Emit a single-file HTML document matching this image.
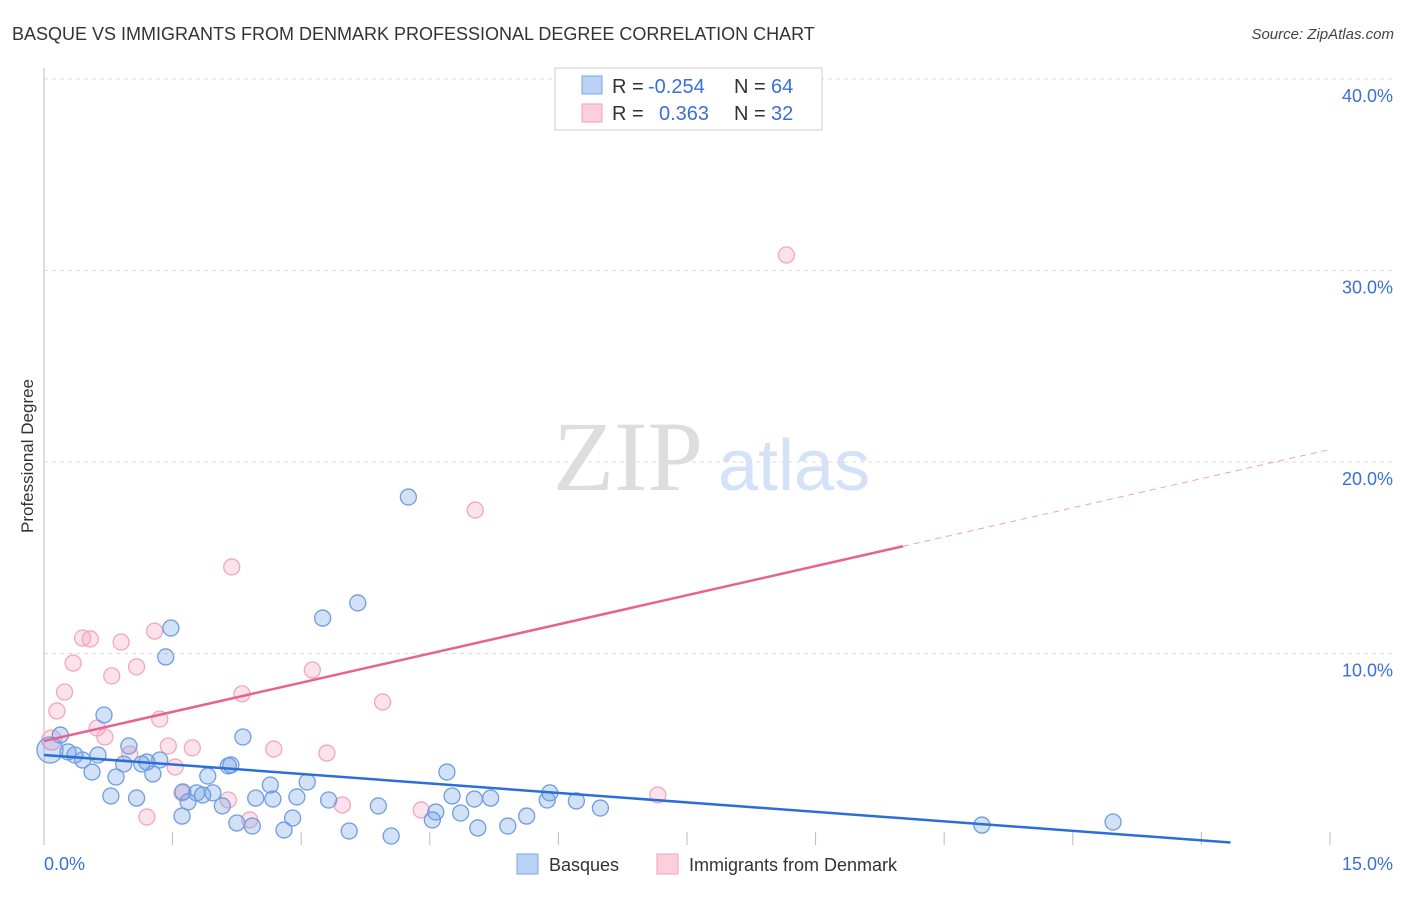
<!DOCTYPE html>
<html><head><meta charset="utf-8"><style>
body{margin:0;background:#fff;font-family:"Liberation Sans",sans-serif;}
</style></head><body>
<svg id="chart" width="1406" height="892" xmlns="http://www.w3.org/2000/svg" font-family="Liberation Sans, sans-serif">
<text x="12" y="40" font-size="18" fill="#333">BASQUE VS IMMIGRANTS FROM DENMARK PROFESSIONAL DEGREE CORRELATION CHART</text>
<text x="1394" y="39" font-size="15" fill="#444" font-style="italic" text-anchor="end">Source: ZipAtlas.com</text>
<g>
<text x="553" y="490" font-size="100" fill="#ddd" style="font-family:'Liberation Serif',serif">ZIP</text>
<text x="718" y="490" font-size="72" fill="#d3e2f6">atlas</text>
</g>
<g id="grid"></g>
<line x1="44" y1="68" x2="44" y2="845" stroke="#bbb"/>
<text transform="translate(33,456) rotate(-90)" font-size="17" fill="#333" text-anchor="middle">Professional Degree</text>
<g id="ticks"></g>
<g id="points"></g>
<g id="lines"></g>
<g>
<rect x="555" y="68" width="267" height="62" fill="#fff" stroke="#ccc"/>
<rect x="582" y="76" width="20" height="18" fill="#b9d2f5" stroke="#7aa6e6"/>
<rect x="582" y="104" width="20" height="18" fill="#fbd0dc" stroke="#f0a0b8"/>
<text x="612" y="93" font-size="20" fill="#333">R =</text>
<text x="648" y="93" font-size="20" fill="#3a6fd8">-0.254</text>
<text x="734" y="93" font-size="20" fill="#333">N =</text>
<text x="771" y="93" font-size="20" fill="#3a6fd8">64</text>
<text x="612" y="120" font-size="20" fill="#333">R =</text>
<text x="659" y="120" font-size="20" fill="#3a6fd8">0.363</text>
<text x="734" y="120" font-size="20" fill="#333">N =</text>
<text x="771" y="120" font-size="20" fill="#3a6fd8">32</text>
</g>
<g>
<rect x="517" y="854" width="21" height="20" fill="#b9d2f5" stroke="#7aa6e6"/>
<text x="549" y="871" font-size="18" fill="#333">Basques</text>
<rect x="657" y="854" width="21" height="20" fill="#fbd0dc" stroke="#f0a0b8"/>
<text x="689" y="871" font-size="18" fill="#333">Immigrants from Denmark</text>
</g>
</svg>
<script>
const yTicks=[10,20,30,40];
const yTickLabels=["10.0%","20.0%","30.0%","40.0%"];
const xTicks=[1.5,3,4.5,6,7.5,9,10.5,12,13.5,15];
const xEndLabels=["0.0%","15.0%"];
const basqueX=[0.07,0.19,0.28,0.36,0.45,0.56,0.63,0.70,0.78,0.84,0.93,0.99,1.08,1.14,1.20,1.27,1.35,1.42,1.48,1.61,1.62,1.68,1.78,1.85,1.91,1.97,2.08,2.15,2.18,2.25,2.32,2.43,2.47,2.64,2.67,2.80,2.90,2.95,3.07,3.25,3.32,3.56,3.66,3.90,4.05,4.25,4.53,4.57,4.70,4.76,4.86,5.02,5.06,5.21,5.41,5.63,5.87,5.90,6.21,6.49,10.94,12.47];
const basqueY=[4.96,5.74,4.86,4.70,4.44,3.81,4.70,6.79,2.56,3.55,4.23,5.17,2.45,4.23,4.33,3.71,4.44,9.82,11.33,1.51,2.77,2.25,2.72,2.61,3.60,2.72,2.04,4.13,4.18,1.15,5.64,0.99,2.45,3.13,2.40,0.78,1.41,2.51,3.29,11.85,2.35,0.73,12.64,2.04,0.47,18.17,1.31,1.72,3.81,2.56,1.67,2.40,0.89,2.45,0.99,1.51,2.35,2.72,2.30,1.93,1.04,1.20];
const denX=[0.09,0.15,0.24,0.34,0.45,0.54,0.62,0.71,0.79,0.90,1.00,1.08,1.20,1.29,1.35,1.45,1.53,1.61,1.73,2.15,2.19,2.31,2.40,2.68,3.13,3.30,3.48,3.95,4.40,5.03,7.16,8.66];
const denY=[5.48,7.00,7.99,9.50,10.81,10.76,6.11,5.64,8.83,10.60,4.75,9.30,1.46,11.17,6.58,5.17,4.07,2.72,5.07,2.35,14.52,7.89,1.31,5.01,9.14,4.80,2.09,7.47,1.83,17.49,2.61,30.81];
const basqueTrend=[4.7,-0.33,13.84];
const denTrend=[5.43,1.015,10.02,15];
const NS="http://www.w3.org/2000/svg";
const xs=v=>44+v*85.73, ys=v=>845-v*19.15;
function mk(tag,attrs,parent){const e=document.createElementNS(NS,tag);for(const k in attrs)e.setAttribute(k,attrs[k]);document.getElementById(parent).appendChild(e);return e;}
yTicks.forEach((t,i)=>{
 const l=mk('line',{x1:44,x2:1393,y1:ys(t),y2:ys(t),stroke:'#ddd','stroke-dasharray':'4,4'},'grid');
 
 
 const tx=mk('text',{x:1393,y:ys(t)+23,'font-size':18,fill:'#3a6fd8','text-anchor':'end'},'ticks');
 tx.textContent=yTickLabels[i];
 
 
});
xTicks.forEach(t=>{
 const l=mk('line',{x1:xs(t),x2:xs(t),y1:832,y2:845,stroke:'#bbb'},'ticks');
 
 
});
const x0=mk('text',{x:44,y:870,'font-size':18,fill:'#3a6fd8'},'ticks');x0.textContent=xEndLabels[0];


const x1=mk('text',{x:1393,y:870,'font-size':18,fill:'#3a6fd8','text-anchor':'end'},'ticks');x1.textContent=xEndLabels[1];


denX.forEach((v,i)=>{
 const c=mk('circle',{cx:xs(v),cy:ys(denY[i]),r:i==0?10:8,fill:'rgba(245,160,190,0.3)',stroke:'#f2a6bf','stroke-width':1.3},'points');
 
 
});
basqueX.forEach((v,i)=>{
 const c=mk('circle',{cx:xs(v),cy:ys(basqueY[i]),r:i==0?13:8,fill:'rgba(110,155,230,0.3)',stroke:'#6e9de2','stroke-width':1.3},'points');
 
 
});
const bl=mk('line',{x1:xs(0),y1:ys(basqueTrend[0]),x2:xs(basqueTrend[2]),y2:ys(basqueTrend[0]+basqueTrend[1]*basqueTrend[2]),stroke:'#2a6fd8','stroke-width':2.5},'lines');


const pl=mk('line',{x1:xs(0),y1:ys(denTrend[0]),x2:xs(denTrend[2]),y2:ys(denTrend[0]+denTrend[1]*denTrend[2]),stroke:'#e8628f','stroke-width':2.5},'lines');


const pd=mk('line',{x1:xs(denTrend[2]),y1:ys(denTrend[0]+denTrend[1]*denTrend[2]),x2:xs(denTrend[3]),y2:ys(denTrend[0]+denTrend[1]*denTrend[3]),stroke:'#f0a0b8','stroke-width':1,'stroke-dasharray':'6,5'},'lines');


</script>
</body></html>
